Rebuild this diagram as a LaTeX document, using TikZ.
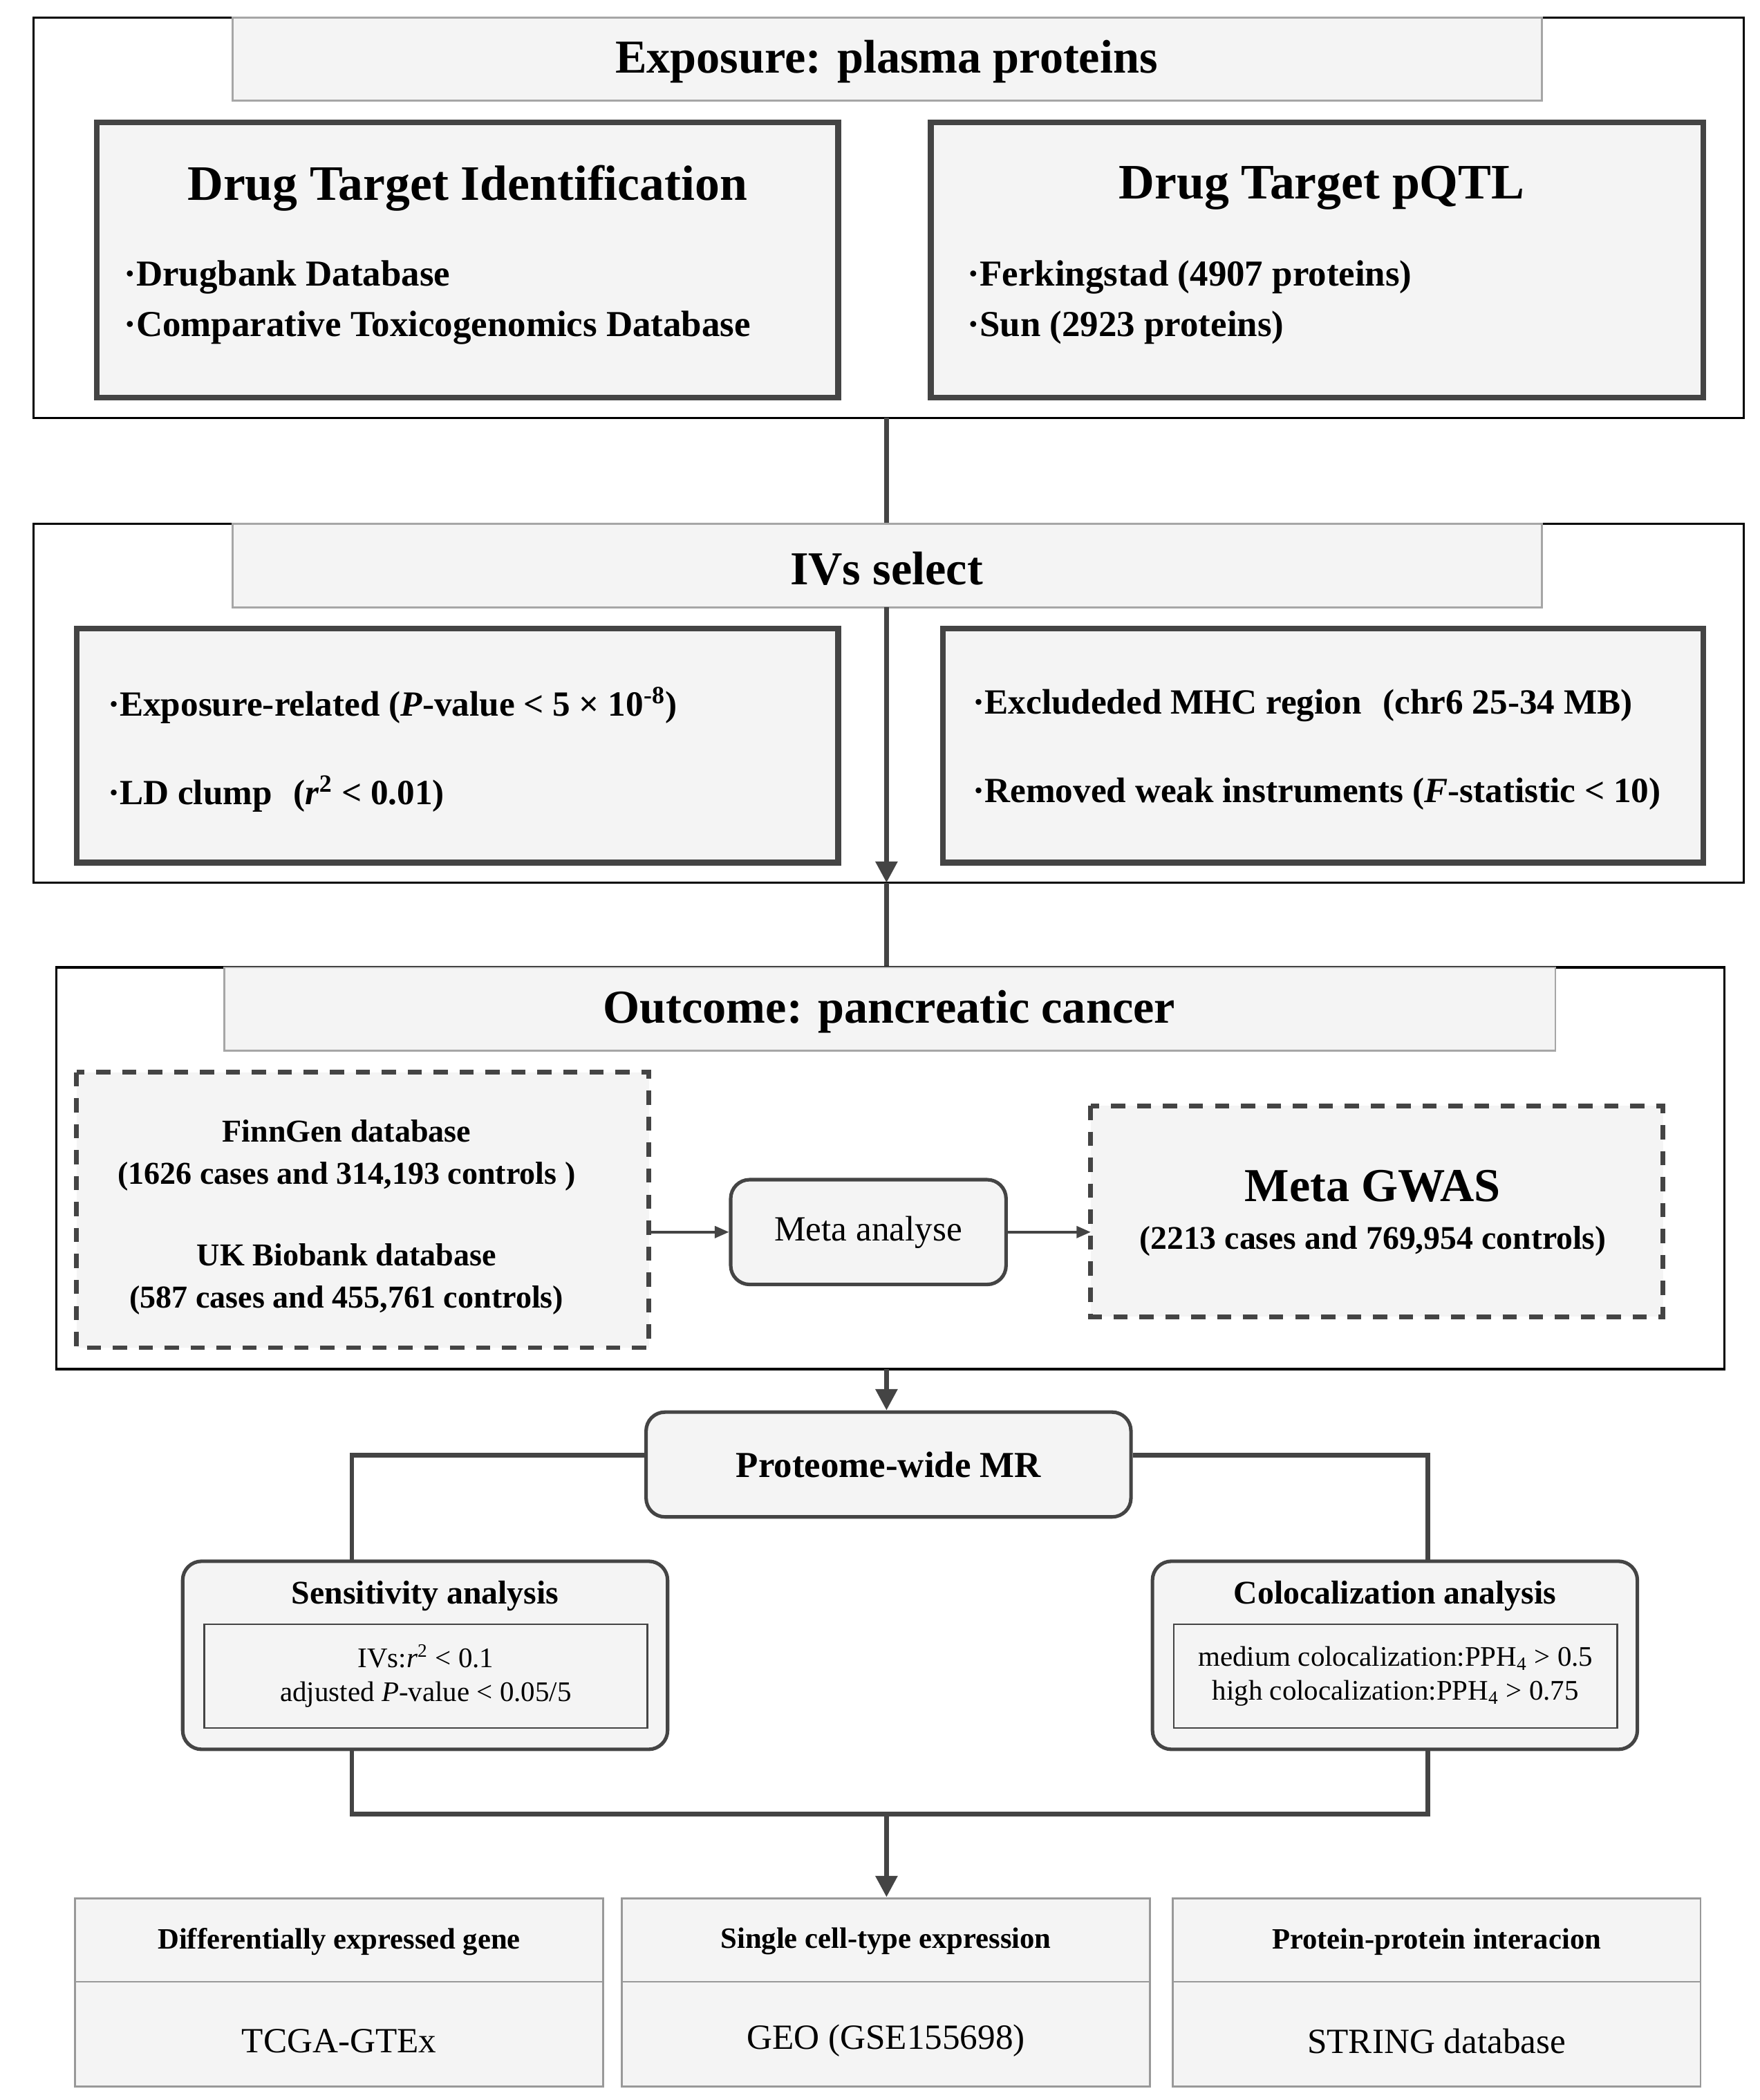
\documentclass[tikz,border=0pt]{standalone}
\usepackage{fontspec}
\setmainfont{Liberation Serif}
\usetikzlibrary{arrows.meta,positioning}
\definecolor{fl}{HTML}{F4F4F4}
\definecolor{dk}{HTML}{444444}
\begin{document}
\begin{tikzpicture}[x=0.02cm,y=-0.02cm,
 outer/.style={draw=black,line width=0.9pt},
 hdr/.style={draw=gray!70,fill=fl,line width=0.8pt},
 thick box/.style={draw=dk,fill=fl,line width=2.4pt},
 dbox/.style={draw=dk,fill=fl,line width=2pt,dash pattern=on 6pt off 5pt},
 rbox/.style={draw=dk,fill=fl,line width=1.5pt,rounded corners=8pt},
 ibox/.style={draw=dk,fill=fl,line width=0.7pt},
 conn/.style={draw=dk,line width=2pt},
 arr/.style={conn,-{Triangle[length=9pt,width=9pt]}},
 sarr/.style={draw=dk,line width=1pt,-{Triangle[length=6pt,width=5pt]}},
 every node/.style={inner sep=0pt}]
\useasboundingbox (0,0) rectangle (1310,1563);
% Block 1
\draw[outer] (25,13) rectangle (1298,311);
\draw[hdr] (173,13) rectangle (1148,75);
\node (h1) at (660,46) {\fontsize{20}{24}\selectfont\bfseries Exposure: plasma proteins};
\draw[thick box] (72,91) rectangle (624,296);
\node at (348,140) {\fontsize{21}{25}\selectfont\bfseries Drug Target Identification};
\node[anchor=west,align=left,font={\fontsize{15.5}{21.5}\selectfont\bfseries}] at (92,225) {·Drugbank Database\\·Comparative Toxicogenomics Database};
\draw[thick box] (693,91) rectangle (1268,296);
\node at (984,140) {\fontsize{21}{25}\selectfont\bfseries Drug Target pQTL};
\node[anchor=west,align=left,font={\fontsize{15.5}{21.5}\selectfont\bfseries}] at (720,225) {·Ferkingstad (4907 proteins)\\·Sun (2923 proteins)};
\coordinate (o1b) at (660,311);
\coordinate (o2t) at (660,390);
\draw[conn] (o1b) -- (o2t);
% Block 2
\draw[outer] (25,390) rectangle (1298,657);
\draw[hdr] (173,390) rectangle (1148,452);
\node (h2) at (660,423) {\fontsize{20}{24}\selectfont\bfseries IVs select};
\draw[thick box] (57,468) rectangle (624,642);
\node[anchor=west] at (80,525) {\fontsize{15}{18}\selectfont\bfseries ·Exposure-related (\textit{P}-value < 5 × 10\textsuperscript{-8})};
\node[anchor=west] at (80,591) {\fontsize{15}{18}\selectfont\bfseries ·LD clump\hspace{0.6em}(\textit{r}\textsuperscript{2} < 0.01)};
\draw[thick box] (702,468) rectangle (1268,642);
\node[anchor=west] at (724,525) {\fontsize{15}{18}\selectfont\bfseries ·Excludeded MHC region\hspace{0.6em}(chr6 25-34 MB)};
\node[anchor=west] at (724,591) {\fontsize{15}{18}\selectfont\bfseries ·Removed weak instruments (\textit{F}-statistic < 10)};
\coordinate (h2b) at (660,452);
\coordinate (o2b) at (660,657);
\coordinate (o3t) at (660,720);
\draw[arr] (h2b) -- (o2b);
\draw[conn] (o2b) -- (o3t);
% Block 3
\draw[outer] (42,720) rectangle (1284,1019);
\draw[hdr] (167,720) rectangle (1158,782);
\node (h3) at (662,753) {\fontsize{20}{24}\selectfont\bfseries Outcome: pancreatic cancer};
\draw[dbox] (57,798) rectangle (483,1003);
\node[align=center,font={\fontsize{13.5}{18}\selectfont\bfseries}] at (258,860) {FinnGen database\\(1626 cases and 314,193 controls )};
\node[align=center,font={\fontsize{13.5}{18}\selectfont\bfseries}] at (258,952) {UK Biobank database\\(587 cases and 455,761 controls)};
\node[rbox,minimum width=205*0.02cm,minimum height=78*0.02cm] (meta) at (646.5,917) {\fontsize{15}{18}\selectfont Meta analyse};
\draw[dbox] (812,823) rectangle (1238,980);
\node at (1022,883) {\fontsize{20}{24}\selectfont\bfseries Meta GWAS};
\node at (1022,924) {\fontsize{14}{18}\selectfont\bfseries (2213 cases and 769,954 controls)};
\coordinate (dl) at (483,917);
\coordinate (dr) at (812,917);
\draw[sarr] (dl) -- (meta.west);
\draw[sarr] (meta.east) -- (dr);
% MR
\coordinate (o3b) at (660,1019);
\node[rbox,minimum width=361*0.02cm,minimum height=78*0.02cm] (pmr) at (661.5,1090) {\fontsize{15.5}{18}\selectfont\bfseries Proteome-wide MR};
\draw[arr] (o3b) -- (pmr.north -| o3b);
\node[rbox,minimum width=361*0.02cm,minimum height=140*0.02cm] (sens) at (316.5,1232) {};
\node at (316.5,1188) {\fontsize{14}{17}\selectfont\bfseries Sensitivity analysis};
\node[ibox,minimum width=330*0.02cm,minimum height=77*0.02cm,align=center,font={\fontsize{12}{14.5}\selectfont}] (si) at (317,1247.5) {IVs:\textit{r}\textsuperscript{2} < 0.1\\adjusted \textit{P}-value < 0.05/5};
\node[rbox,minimum width=361*0.02cm,minimum height=140*0.02cm] (col) at (1038.5,1232) {};
\node at (1038.5,1188) {\fontsize{14}{17}\selectfont\bfseries Colocalization analysis};
\node[ibox,minimum width=330*0.02cm,minimum height=77*0.02cm,align=center,font={\fontsize{12}{14.5}\selectfont}] (ci) at (1039,1247.5) {medium colocalization:PPH\textsubscript{4} > 0.5\\high colocalization:PPH\textsubscript{4} > 0.75};
\coordinate (lc) at (262,1083);
\coordinate (rc) at (1063,1083);
\draw[conn] (pmr.west |- lc) -- (lc) -- (262,1162);
\draw[conn] (pmr.east |- rc) -- (rc) -- (1063,1162);
\coordinate (j) at (660,1350);
\draw[conn] (262,1302) -- (262,1350) -- (1063,1350) -- (1063,1302);
\coordinate (bt) at (660,1412);
\draw[arr] (j) -- (bt);
% Bottom boxes
\foreach \x/\n/\h/\t in {56/b1/Differentially expressed gene/TCGA-GTEx, 463/b2/Single cell-type expression/GEO (GSE155698), 873/b3/Protein-protein interacion/STRING database}{
 \draw[hdr,draw=gray!80] (\x,1413) rectangle (\x+393,1475);
 \draw[hdr,draw=gray!80] (\x,1475) rectangle (\x+393,1553);
 \node (\n h) at (\x+196.5,1445) {\fontsize{12.5}{15}\selectfont\bfseries \h};
 \node (\n t) at (\x+196.5,1519) {\fontsize{15}{18}\selectfont \t};
}
\end{tikzpicture}
\end{document}
